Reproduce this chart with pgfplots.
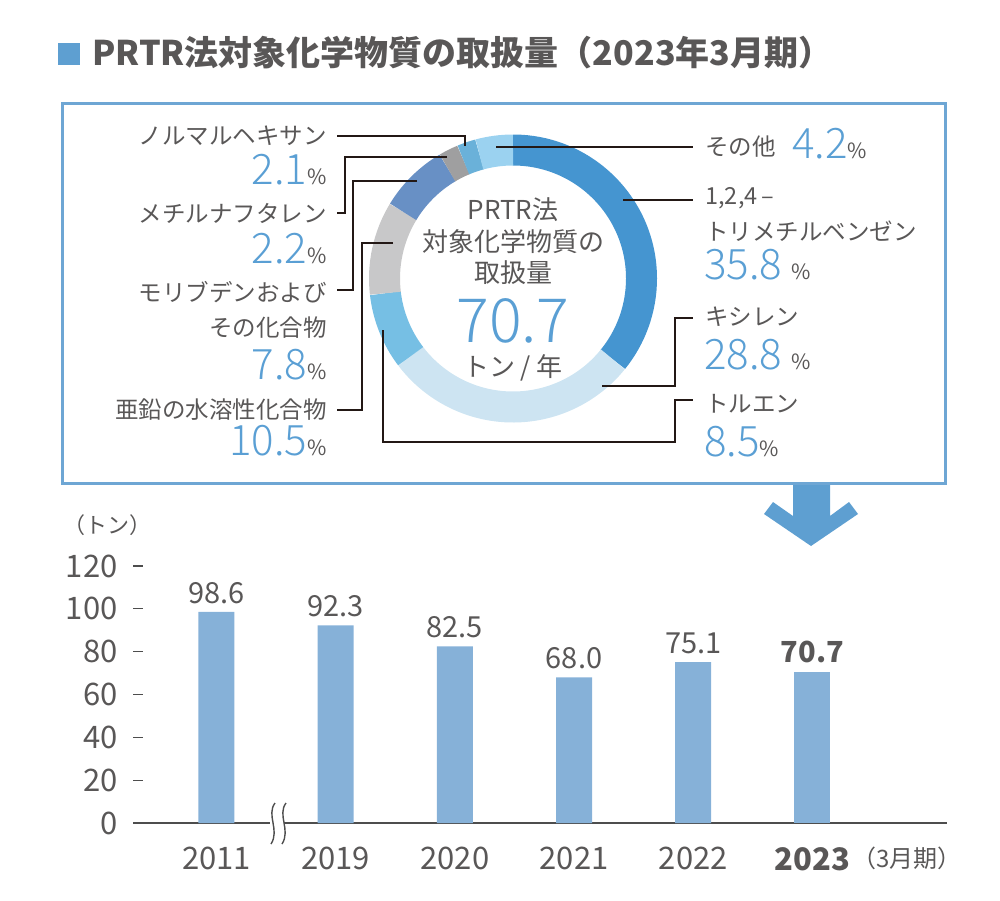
\documentclass[border=0pt]{standalone}
\usepackage{fontspec}
\usepackage{pgfplots}
\pgfplotsset{compat=1.18}
\setmainfont{Noto Sans CJK JP}
\newfontfamily\lightfont{Noto Sans CJK JP Light}

\definecolor{txt}{HTML}{595757}
\definecolor{numblue}{HTML}{5A9FD4}
\definecolor{barblue}{HTML}{86B1D8}
\definecolor{framec}{HTML}{6EA6D4}
\definecolor{arrowblue}{HTML}{5E9FD1}
\definecolor{leader}{HTML}{231815}
\definecolor{axisgray}{HTML}{4D4D4D}
% ring colours, clockwise from the top
\definecolor{sA}{HTML}{4595D0}
\definecolor{sB}{HTML}{CDE4F2}
\definecolor{sC}{HTML}{76BFE4}
\definecolor{sD}{HTML}{C8C8C9}
\definecolor{sE}{HTML}{6890C5}
\definecolor{sF}{HTML}{9F9FA0}
\definecolor{sG}{HTML}{6AB1D9}
\definecolor{sH}{HTML}{9BD2F0}

\newcommand\lbl{\fontsize{11.75pt}{14pt}\selectfont\color{txt}}
\newcommand\bignum{\lightfont\fontsize{21pt}{24pt}\selectfont\color{numblue}}
\newcommand\pct{{\normalfont\fontsize{10.5pt}{12pt}\selectfont\color{txt}\%}}
\newcommand\ctr{\fontsize{13pt}{15pt}\selectfont\color{txt}}

% one ring segment: #1 = cumulative share before it, #2 = its share (total 99.9 -> 360 deg)
\newcommand\ringslice[3]{%
  \draw[line width=15.5pt, draw=#3]
    (axis cs:0,0) ++({90-(#1)*3.603604}:64.25pt)
    arc[start angle={90-(#1)*3.603604},
        end angle={90-(#1+#2)*3.603604}, radius=64.25pt];}

\begin{document}
\begin{tikzpicture}
% ---------- ring of shares ----------
\begin{axis}[at={(256.5pt,-139.25pt)}, anchor=center,
  x=0.5pt, y=0.5pt, xmin=-150, xmax=150, ymin=-150, ymax=150,
  hide axis, clip=false]
  \ringslice{0}{35.8}{sA}
  \ringslice{35.8}{28.8}{sB}
  \ringslice{64.6}{8.5}{sC}
  \ringslice{73.1}{10.5}{sD}
  \ringslice{83.6}{7.8}{sE}
  \ringslice{91.4}{2.2}{sF}
  \ringslice{93.6}{2.1}{sG}
  \ringslice{95.7}{4.2}{sH}
\end{axis}

% ---------- yearly totals ----------
\begin{axis}[at={(66.5pt,-411.5pt)}, anchor=south west,
  x=59.6pt, y=1.07085pt,
  xmin=-0.7, xmax=6.13, ymin=0, ymax=120,
  axis lines=left,
  x axis line style={-, draw=axisgray, line width=0.75pt},
  y axis line style={draw=none},
  xtick={0,...,5},
  xticklabels={2011,2019,2020,2021,2022,\textbf{2023}},
  ytick={0,20,...,120},
  xtick style={draw=none},
  ytick style={draw=axisgray, line width=0.6pt},
  tick align=inside, major tick length=5pt,
  tick label style={font=\fontsize{15.5pt}{18pt}\selectfont, text=txt},
  /pgf/number format/assume math mode=true,
  yticklabel style={anchor=east, inner sep=0pt, xshift=-7.5pt},
  xticklabel style={anchor=north, inner sep=0pt, yshift=-7pt},
  ybar, bar width=18pt, bar shift=0pt,
  nodes near coords={\pgfmathprintnumber[fixed,fixed zerofill,precision=1]{\pgfplotspointmeta}},
  every node near coord/.append style={anchor=south, inner sep=0pt, yshift=4pt,
    font=\fontsize{14.5pt}{17pt}\selectfont, text=txt},
  clip=false]
  \addplot[fill=barblue, draw=none] coordinates {(0,98.6) (1,92.3) (2,82.5) (3,68.0) (4,75.1)};
  \addplot[fill=barblue, draw=none,
    every node near coord/.append style={font=\fontsize{14.5pt}{17pt}\selectfont\bfseries}]
    coordinates {(5,70.7)};
\end{axis}

\begin{scope}[x=0.5pt, y=-0.5pt]
\path[use as bounding box] (0,0) rectangle (1000,900);

% title
\fill[arrowblue] (58,43) rectangle (80,65);
\node[anchor=west, inner sep=0pt, text=txt] at (92,53)
  {\fontsize{17pt}{20pt}\selectfont\bfseries PRTR法対象化学物質の取扱量（2023年3月期）};

% frame and arrow
\draw[framec, line width=1.5pt] (62,103) rectangle (945,483);
\fill[arrowblue] (793,485) -- (830,485) -- (830,516) -- (849,502) -- (858,514)
  -- (811,546) -- (764,514) -- (773,502) -- (793,516) -- cycle;

% centre of the ring
\node[inner sep=0pt] at (513,210) {\ctr PRTR法};
\node[inner sep=0pt] at (513,242) {\ctr 対象化学物質の};
\node[inner sep=0pt] at (513,273) {\ctr 取扱量};
\node[inner sep=0pt] at (513,321) {\lightfont\fontsize{30.5pt}{34pt}\selectfont\color{numblue}70.7};
\node[inner sep=0pt] at (513,368) {\ctr トン / 年};

% leader lines
\begin{scope}[draw=leader, line width=0.65pt]
\draw (496,147) -- (693,147);
\draw (623,200) -- (693,200);
\draw (602,386) -- (675,386) -- (675,318) -- (693,318);
\draw (383,330) -- (383,442) -- (675,442) -- (675,400) -- (693,400);
\draw (337,136) -- (465,136) -- (465,146);
\draw (447,157) -- (345,157) -- (345,213) -- (337,213);
\draw (417,181) -- (353,181) -- (353,290) -- (337,290);
\draw (393,243) -- (362,243) -- (362,410) -- (337,410);
\end{scope}

% labels on the left
\node[anchor=east, inner sep=0pt] at (327,136) {\lbl ノルマルヘキサン};
\node[anchor=base east, inner sep=0pt] at (327,184) {\bignum 2.1\pct};
\node[anchor=east, inner sep=0pt] at (327,213) {\lbl メチルナフタレン};
\node[anchor=base east, inner sep=0pt] at (327,263) {\bignum 2.2\pct};
\node[anchor=east, inner sep=0pt] at (327,292) {\lbl モリブデンおよび};
\node[anchor=east, inner sep=0pt] at (327,328) {\lbl その化合物};
\node[anchor=base east, inner sep=0pt] at (327,379) {\bignum 7.8\pct};
\node[anchor=east, inner sep=0pt] at (327,410) {\lbl 亜鉛の水溶性化合物};
\node[anchor=base east, inner sep=0pt] at (327,455) {\bignum 10.5\pct};

% labels on the right
\node[anchor=west, inner sep=0pt] at (705,147) {\lbl その他};
\node[anchor=base west, inner sep=0pt] at (792,158) {\bignum 4.2\pct};
\node[anchor=west, inner sep=0pt] at (705,198) {\lbl 1,2,4\,–};
\node[anchor=west, inner sep=0pt] at (705,231) {\lbl トリメチルベンゼン};
\node[anchor=base west, inner sep=0pt] at (704,279) {\bignum 35.8 \pct};
\node[anchor=west, inner sep=0pt] at (705,317) {\lbl キシレン};
\node[anchor=base west, inner sep=0pt] at (704,369) {\bignum 28.8 \pct};
\node[anchor=west, inner sep=0pt] at (705,404) {\lbl トルエン};
\node[anchor=base west, inner sep=0pt] at (704,456) {\bignum 8.5\pct};

% unit and period notes of the bar chart
\node[anchor=west, inner sep=0pt] at (63,525) {\fontsize{11pt}{13pt}\selectfont\color{txt}（トン）};
\node[anchor=west, inner sep=0pt] at (852,858) {\fontsize{12pt}{14pt}\selectfont\color{txt}（3月期）};

% axis break between 2011 and 2019
\fill[white] (270,819) rectangle (284,827);
\draw[axisgray, line width=0.7pt] (275,803) .. controls (266,815) and (280,830) .. (271,844);
\draw[axisgray, line width=0.7pt] (286,803) .. controls (277,815) and (291,830) .. (282,844);
\end{scope}
\end{tikzpicture}
\end{document}
